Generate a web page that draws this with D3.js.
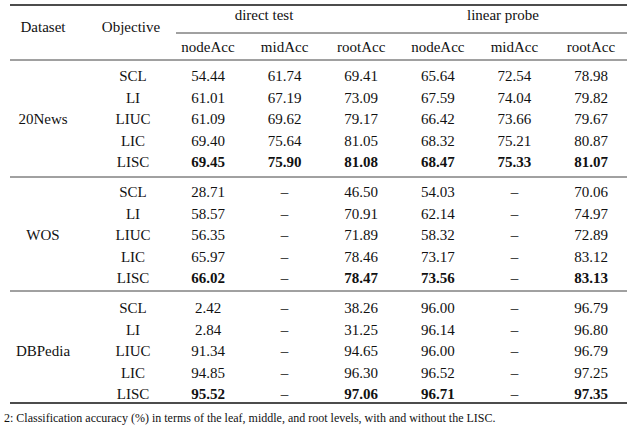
<!DOCTYPE html>
<html>
<head>
<meta charset="utf-8">
<script src="https://cdn.jsdelivr.net/npm/d3@7"></script>
<style>
  body { margin: 0; background: #fff; }
  text { font-family: "Liberation Serif", "Times New Roman", serif; font-size: 15px; fill: #111; }
</style>
</head>
<body>
<script>
// table data
var datasets = ["20News", "WOS", "DBPedia"];
var objectives = ["SCL", "LI", "LIUC", "LIC", "LISC"];
var groups = ["direct test", "linear probe"];
var metrics = ["nodeAcc", "midAcc", "rootAcc", "nodeAcc", "midAcc", "rootAcc"];

var news20 = [
  ["54.44", "61.74", "69.41", "65.64", "72.54", "78.98"],
  ["61.01", "67.19", "73.09", "67.59", "74.04", "79.82"],
  ["61.09", "69.62", "79.17", "66.42", "73.66", "79.67"],
  ["69.40", "75.64", "81.05", "68.32", "75.21", "80.87"],
  ["69.45", "75.90", "81.08", "68.47", "75.33", "81.07"]
];
var wos = [
  ["28.71", "–", "46.50", "54.03", "–", "70.06"],
  ["58.57", "–", "70.91", "62.14", "–", "74.97"],
  ["56.35", "–", "71.89", "58.32", "–", "72.89"],
  ["65.97", "–", "78.46", "73.17", "–", "83.12"],
  ["66.02", "–", "78.47", "73.56", "–", "83.13"]
];
var dbpedia = [
  ["2.42", "–", "38.26", "96.00", "–", "96.79"],
  ["2.84", "–", "31.25", "96.14", "–", "96.80"],
  ["91.34", "–", "94.65", "96.00", "–", "96.79"],
  ["94.85", "–", "96.30", "96.52", "–", "97.25"],
  ["95.52", "–", "97.06", "96.71", "–", "97.35"]
];
// bold cells per dataset: [row, col]
var bold20 = [[4,0],[4,1],[4,2],[4,3],[4,4],[4,5]];
var boldWos = [[4,0],[4,2],[4,3],[4,5]];
var boldDb = [[4,0],[4,2],[4,3],[4,5]];

var allData = [news20, wos, dbpedia];
var allBold = [bold20, boldWos, boldDb];

var svg = d3.select("body").append("svg").attr("width", 640).attr("height", 426);

var x = d3.scalePoint().domain(d3.range(6)).range([208, 591]);
var groupX = d3.scaleOrdinal().domain(groups).range([264, 503]);
// row positions: index within whole table
var y = d3.scaleLinear().domain([0, 1]).range([76, 97.5]);
var blockGap = 8.5;
function rowY(g, r) { return y(g * 5 + r) + g * blockGap; }

function rule(y0, x0, x1, w) {
  svg.append("line").attr("x1", x0).attr("x2", x1).attr("y1", y0).attr("y2", y0)
    .attr("stroke", "#111").attr("stroke-width", w);
}

rule(5, 10, 627, 1.3);
rule(33, 176, 627, 0.8);
rule(60, 10, 627, 0.8);
rule(177, 10, 627, 0.8);
rule(291, 10, 627, 0.8);
rule(403, 10, 627, 1.3);

svg.append("text").attr("x", 43).attr("y", 32).attr("text-anchor", "middle").text("Dataset");
svg.append("text").attr("x", 131).attr("y", 32).attr("text-anchor", "middle").text("Objective");
svg.selectAll(".grp").data(groups).enter().append("text")
  .attr("x", d => groupX(d)).attr("y", 20).attr("text-anchor", "middle").text(d => d);
svg.selectAll(".met").data(metrics).enter().append("text")
  .attr("x", (d, i) => x(i)).attr("y", 52).attr("text-anchor", "middle").text(d => d);

allData.forEach(function(rows, g) {
  svg.append("text").attr("x", 43).attr("y", rowY(g, 2) + 5).attr("text-anchor", "middle").text(datasets[g]);
  rows.forEach(function(vals, r) {
    svg.append("text").attr("x", 133).attr("y", rowY(g, r) + 5).attr("text-anchor", "middle").text(objectives[r]);
    svg.selectAll(null).data(vals).enter().append("text")
      .attr("x", (d, i) => x(i)).attr("y", rowY(g, r) + 5).attr("text-anchor", "middle")
      .attr("font-weight", (d, i) => allBold[g].some(b => b[0] === r && b[1] === i) ? "bold" : null)
      .text(d => d);
  });
});

svg.append("text").attr("x", 4).attr("y", 422).style("font-size", "12px")
  .text("2: Classification accuracy (%) in terms of the leaf, middle, and root levels, with and without the LISC.");
</script>
</body>
</html>
